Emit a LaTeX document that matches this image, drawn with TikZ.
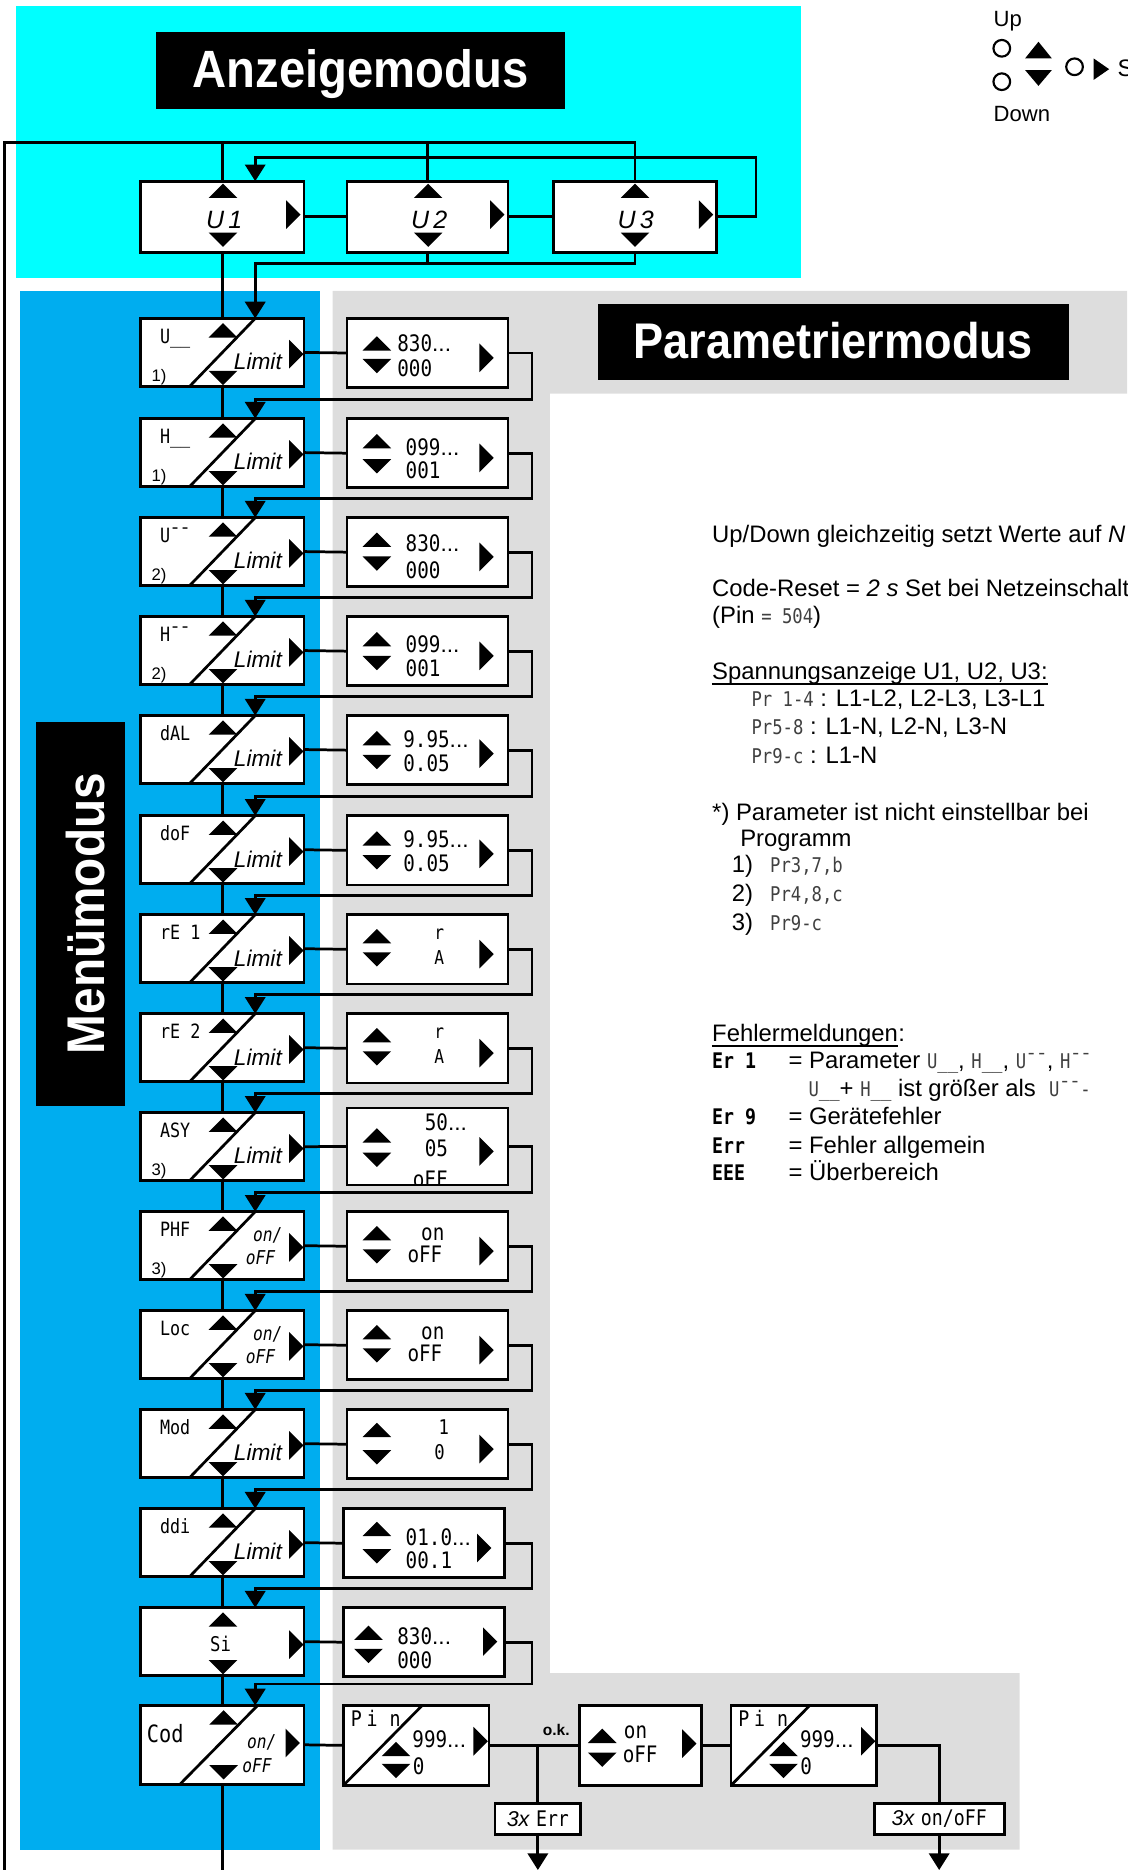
\documentclass[tikz,border=0pt]{standalone}
\usepackage{fontspec}
\setmainfont{Liberation Sans}
\newfontfamily\lcdf{DejaVu Sans Mono}[FakeStretch=0.85]
\newfontfamily\titlef{Liberation Sans}[FakeStretch=0.9]
\usetikzlibrary{arrows.meta,calc}
\definecolor{cyanbg}{RGB}{0,255,255}
\definecolor{bluebg}{RGB}{0,173,239}
\definecolor{graybg}{RGB}{221,221,221}
\newcommand\fsz[1]{\fontsize{#1}{#1}\selectfont}
\newcommand\mydots{{\rmfamily...}}
\newcommand\lcdn{\lcdf\fsz{17}\color{black!75}}
\newcommand\lcdb{\lcdf\bfseries\fsz{18}}
\newcommand\TU[2]{\fill (#1,#2) ++(-12,6) -- ++(24,0) -- ++(-12,-12) -- cycle;}
\newcommand\TD[2]{\fill (#1,#2) ++(-12,-6) -- ++(24,0) -- ++(-12,12) -- cycle;}
\newcommand\TR[2]{\fill (#1,#2) ++(-6,-12) -- ++(0,24) -- ++(12,-12) -- cycle;}
\tikzset{
  lw/.style={line width=2.3pt},
  arr/.style={lw,-{Triangle[width=17pt,length=14pt]}},
  boxst/.style={draw,fill=white,lw,inner sep=0pt,outer sep=0pt},
  mbox/.style={boxst,minimum width=137pt,minimum height=57pt},
  pbox/.style={boxst,minimum width=135pt},
  tb/.style={anchor=base west,inner sep=0pt},
  lab/.style={tb,font=\lcdf\fsz{16.5}},
  val/.style={tb,font=\lcdf\fsz{19}},
  lim/.style={tb,font=\itshape\fsz{19}},
  onst/.style={tb,font=\lcdf\itshape\fsz{16}},
  footst/.style={tb,font=\fsz{14}},
  note/.style={tb,font=\fsz{20}},
  ttl/.style={inner sep=0pt,text=white,font=\titlef\bfseries},
}
% menu box: name, top, label
\newcommand\mbx[3]{%
  \node[mbox,anchor=north] (#1) at (186.5,#2) {};
  \draw[lw] ($(#1.south west)+(41,0)$) -- ($(#1.north west)+(96,0)$);
  \TU{187}{#2+10}\TD{187}{#2+50}\TR{248.5}{#2+30}
  \node[lab] (#1-l) at (134,#2+21) {#3};}
\newcommand\limt[2]{\node[lim] (#1-lim) at (196,#2+43) {Limit};}
\newcommand\onoff[2]{\node[onst] (#1-on) at (212,#2+25) {on/};\node[onst] (#1-off) at (206,#2+44) {oFF};}
\newcommand\fnote[3]{\node[footst] (#1-fn) at (127,#2+53) {#3};}
% param box: name, cx, top, height, trix, up, dn, rtx, rt
\newcommand\pbx[9]{%
  \node[pbox,anchor=north,minimum height=#4] (#1) at (#2,#3) {};
  \TU{#5}{#3+#6}\TD{#5}{#3+#7}\TR{#8}{#3+#9}}
\newcommand\pv[4]{\node[val] (#1) at (#2,#3) {#4};}
\newcommand\ret[3]{\draw[arr] (#1.east) -| (446,#3) -| ($(#2.north)+(27.5,0)$);}

\begin{document}
\begin{tikzpicture}[x=1pt,y=-1pt]
\useasboundingbox (0,0) rectangle (945,1568);
\clip (0,0) rectangle (945,1568);
% backgrounds
\fill[cyanbg] (13,5) rectangle (672,233);
\fill[bluebg] (17,244) rectangle (268,1551);
\fill[graybg] (279,244) -- (945,244) -- (945,330) -- (461,330) -- (461,1403) -- (855,1403) -- (855,1551) -- (279,1551) -- cycle;

% titles
\node[fill=black,minimum width=343pt,minimum height=64pt] (anzbox) at (302.5,59) {};
\node[ttl,anchor=base] (anz) at (302.5,73.2) {\fsz{44}Anzeigemodus};
\node[fill=black,minimum width=395pt,minimum height=64pt] (parbox) at (698.5,287) {};
\node[ttl,anchor=base] (par) at (698.5,301) {\fsz{42}Parametriermodus};
\node[fill=black,minimum width=75pt,minimum height=322pt] (menbox) at (67.5,766) {};
\node[ttl,rotate=90,anchor=base] (men) at (88,766) {\fsz{44.5}Menümodus};

% legend
\node[tb,font=\fsz{18.5}] (up) at (833,22.4) {Up};
\node[tb,font=\fsz{18.5}] (down) at (833,102) {Down};
\node[circle,draw,line width=1.8pt,minimum size=14pt,inner sep=0pt] (c1) at (840,40.5) {};
\node[circle,draw,line width=1.8pt,minimum size=14pt,inner sep=0pt] (c2) at (840,68.5) {};
\node[circle,draw,line width=1.8pt,minimum size=14pt,inner sep=0pt] (c3) at (901,56) {};
\fill (859.5,49) -- (882,49) -- (870.75,35) -- cycle;
\fill (859.5,58.7) -- (882,58.7) -- (870.75,72) -- cycle;
\fill (917,49) -- (917,67) -- (930,58) -- cycle;
\node[tb,font=\fsz{20}] (setl) at (937,64.5) {Set};

% display mode boxes
\node[boxst,minimum width=137pt,minimum height=59.5pt] (u1) at (186.5,181.7) {};
\node[boxst,minimum width=135pt,minimum height=59.5pt] (u2) at (358.5,181.7) {};
\node[boxst,minimum width=137pt,minimum height=59.5pt] (u3) at (532.5,181.7) {};
\TU{187}{160}\TD{187}{201}\TR{246}{180}
\TU{359}{160}\TD{359}{201}\TR{417}{180}
\TU{532.5}{160}\TD{532.5}{201}\TR{592}{180}
\node[font=\itshape\fsz{21},anchor=base,inner sep=0pt] (u1t) at (188,191.5) {U\,1};
\node[font=\itshape\fsz{21},anchor=base,inner sep=0pt] (u2t) at (360,191.5) {U\,2};
\node[font=\itshape\fsz{21},anchor=base,inner sep=0pt] (u3t) at (533,191.5) {U\,3};

% menu boxes
\mbx{m1}{267}{U\_\_}\limt{m1}{267}\fnote{m1}{267}{1)}
\mbx{m2}{351}{H\_\_}\limt{m2}{351}\fnote{m2}{351}{1)}
\mbx{m3}{434}{U¯¯}\limt{m3}{434}\fnote{m3}{434}{2)}
\mbx{m4}{517}{H¯¯}\limt{m4}{517}\fnote{m4}{517}{2)}
\mbx{m5}{600}{dAL}\limt{m5}{600}
\mbx{m6}{684}{doF}\limt{m6}{684}
\mbx{m7}{767}{rE 1}\limt{m7}{767}
\mbx{m8}{850}{rE 2}\limt{m8}{850}
\mbx{m9}{933}{ASY}\limt{m9}{933}\fnote{m9}{933}{3)}
\mbx{m10}{1016}{PHF}\onoff{m10}{1016}\fnote{m10}{1016}{3)}
\mbx{m11}{1099}{Loc}\onoff{m11}{1099}
\mbx{m12}{1182}{Mod}\limt{m12}{1182}
\mbx{m13}{1265}{ddi}\limt{m13}{1265}
\node[mbox,anchor=north] (m14) at (186.5,1348) {};
\TU{187}{1358}\TD{187}{1398}\TR{248.5}{1379}
\node[tb,font=\lcdf\fsz{17}] (m14-l) at (176,1385) {Si};
\node[mbox,anchor=north,minimum height=66pt] (m15) at (186.5,1430) {};
\draw[lw] ($(m15.south west)+(33,0)$) -- ($(m15.north west)+(98,0)$);
\TU{187.5}{1440}\TD{187.5}{1486}\TR{245.5}{1461.5}
\node[tb,font=\lcdf\fsz{20}] (m15-l) at (123,1461) {Cod};
\node[onst] (m15-on) at (207,1466) {on/};
\node[onst] (m15-off) at (203,1486) {oFF};

% parameter boxes
\pbx{p1}{358.5}{267}{58pt}{316}{21}{40}{408}{33}
\pv{p1a}{333}{295}{830\mydots}\pv{p1b}{333}{316}{000}
\pbx{p2}{358.5}{351}{58pt}{316}{19}{40}{408}{33}
\pv{p2a}{340}{381.6}{099\mydots}\pv{p2b}{340}{401.6}{001}
\pbx{p3}{358.5}{434}{58pt}{316}{18.5}{38.6}{408}{33}
\pv{p3a}{340}{462.6}{830\mydots}\pv{p3b}{340}{485}{000}
\pbx{p4}{358.5}{517}{58pt}{316}{19}{39}{408}{33}
\pv{p4a}{340}{547}{099\mydots}\pv{p4b}{340}{567}{001}
\pbx{p5}{358.5}{600}{58pt}{316}{19}{39}{408}{32}
\pv{p5a}{338}{627}{9.95\mydots}\pv{p5b}{338}{647}{0.05}
\pbx{p6}{358.5}{684}{58pt}{316}{19}{39}{408}{32}
\pv{p6a}{338}{711}{9.95\mydots}\pv{p6b}{338}{731}{0.05}
\pbx{p7}{358.5}{767}{58pt}{316}{18}{37.5}{408}{33}
\node[tb,font=\lcdf\fsz{16}] (p7a) at (364,788) {r};
\node[tb,font=\lcdf\fsz{16}] (p7b) at (364,809) {A};
\pbx{p8}{358.5}{850}{58pt}{316}{18}{37.5}{408}{33}
\node[tb,font=\lcdf\fsz{16}] (p8a) at (364,871) {r};
\node[tb,font=\lcdf\fsz{16}] (p8b) at (364,892) {A};
\pbx{p9}{358.5}{929}{64.6pt}{316}{23}{43.5}{408}{36.5}
\pv{p9a}{356}{947.6}{50\mydots}\pv{p9b}{356}{970}{05}
\begin{scope}
\clip (p9.south west) rectangle (p9.north east);
\pv{p9c}{346}{996}{oFF}
\end{scope}
\pbx{p10}{358.5}{1016}{58pt}{316}{18}{37.5}{408}{33}
\pv{p10a}{353}{1040}{on}\pv{p10b}{341.5}{1059}{oFF}
\pbx{p11}{358.5}{1099}{58pt}{316}{18}{37.5}{408}{33}
\pv{p11a}{353}{1123}{on}\pv{p11b}{341.5}{1142}{oFF}
\pbx{p12}{358.5}{1182}{58pt}{316}{17}{40}{408}{33}
\node[tb,font=\lcdf\fsz{17}] (p12a) at (367.5,1203) {1};
\node[tb,font=\lcdf\fsz{17}] (p12b) at (364,1224) {0};
\pbx{p13}{355.5}{1265}{58pt}{316}{17}{40}{406}{33}
\pv{p13a}{340}{1295.6}{01.0\mydots}\pv{p13b}{340}{1315}{00.1}
\pbx{p14}{355.5}{1348}{58pt}{309}{21}{40.6}{411}{28.5}
\pv{p14a}{333}{1379}{830\mydots}\pv{p14b}{333}{1399}{000}

% code chain
\node[boxst,minimum width=122pt,minimum height=67pt,anchor=north] (pin1) at (349,1430) {};
\draw[lw] (pin1.south west) -- ($(pin1.north west)+(66,0)$);
\TU{332}{1466.5}\TD{332}{1485}\TR{403}{1460}
\node[tb,font=\lcdf\fsz{18}] (pin1l) at (294,1448) {P\kern4pt i\kern10pt n};
\pv{pin1a}{345.6}{1465}{999\mydots}\pv{pin1b}{346}{1488}{0}
\node[boxst,minimum width=102pt,minimum height=67pt,anchor=north] (ook) at (537,1430) {};
\TU{505}{1455.5}\TD{505}{1475.5}\TR{578}{1462}
\pv{ooka}{523}{1458}{on}\pv{ookb}{522}{1478}{oFF}
\node[boxst,minimum width=122pt,minimum height=67pt,anchor=north] (pin2) at (674,1430) {};
\draw[lw] (pin2.south west) -- ($(pin2.north west)+(66,0)$);
\TU{657}{1466.5}\TD{657}{1485}\TR{728}{1460}
\node[tb,font=\lcdf\fsz{18}] (pin2l) at (619,1448) {P\kern4pt i\kern10pt n};
\pv{pin2a}{670.6}{1465}{999\mydots}\pv{pin2b}{671}{1488}{0}
\node[boxst,minimum width=72pt,minimum height=26pt,font=\fsz{18}] (err) at (451,1525) {\textit{3x} {\lcdf Err}};
\node[boxst,minimum width=109pt,minimum height=26pt,font=\fsz{18}] (onoffb) at (787.5,1525) {\textit{3x} {\lcdf on/oFF}};
\node[tb,font=\bfseries\fsz{13}] (ok) at (455,1455) {o.k.};

% coordinates
\coordinate (tl) at (4,119.5);
\coordinate (bl) at (4,1568);
\coordinate (lp) at (634,132);
\coordinate (jb) at (214,221);
\coordinate (cb) at (186.5,1568);
\coordinate (errend) at (451,1568);
\coordinate (onend) at (787.5,1568);

% connectors top
\draw[lw] (bl) -- (tl) -| (u3.north);
\draw[lw] (u1.north) -- (u1.north |- tl);
\draw[lw] (u2.north) -- (u2.north |- tl);
\draw[lw] (u1.east) -- (u2.west);
\draw[lw] (u2.east) -- (u3.west);
\draw[arr] (u3.east) -| (lp) -| ($(u1.north)+(27.5,0)$);
\draw[lw] (u2.south) -- (u2.south |- jb);
\draw[arr] (u3.south) |- (jb) -- ($(m1.north)+(27.5,0)$);
\draw[lw] (u1.south) -- (m1.north);

% menu chain
\foreach \a/\b in {m1/m2,m2/m3,m3/m4,m4/m5,m5/m6,m6/m7,m7/m8,m8/m9,m9/m10,m10/m11,m11/m12,m12/m13,m13/m14,m14/m15}
  \draw[lw] (\a.south) -- (\b.north);
\draw[lw] (m15.south) -- (cb);
\foreach \a/\b in {m1/p1,m2/p2,m3/p3,m4/p4,m5/p5,m6/p6,m7/p7,m8/p8,m9/p9,m10/p10,m11/p11,m12/p12,m13/p13,m14/p14}
  \draw[lw] (\a.east) -- (\b.west);
\ret{p1}{m2}{335}\ret{p2}{m3}{418}\ret{p3}{m4}{501}\ret{p4}{m5}{584}
\ret{p5}{m6}{668}\ret{p6}{m7}{751}\ret{p7}{m8}{834}\ret{p8}{m9}{917}
\ret{p9}{m10}{1000}\ret{p10}{m11}{1083}\ret{p11}{m12}{1166}\ret{p12}{m13}{1249}
\ret{p13}{m14}{1332}\ret{p14}{m15}{1412}

% code chain connectors
\draw[lw] (m15.east) -- (pin1.west);
\draw[lw] (pin1.east) -- (ook.west);
\draw[lw] (err.north) -- (err.north |- pin1.east);
\draw[arr] (err.south) -- (errend);
\draw[lw] (ook.east) -- (pin2.west);
\draw[lw] (pin2.east) -| (onoffb.north);
\draw[arr] (onoffb.south) -- (onend);

% notes
\node[note] (n1) at (597,454.5) {Up/Down gleichzeitig setzt Werte auf \textit{N}};
\node[note] (n2) at (597,500) {Code-Reset = \textit{2 s} Set bei Netzeinschalt};
\node[note] (n3) at (597,522.6) {(Pin {\lcdn = 504})};
\node[note] (n4) at (597,570) {Spannungsanzeige U1, U2, U3:};
\draw[line width=1.3pt] ($(n4.base west)+(0,3.5)$) -- ($(n4.base east)+(0,3.5)$);
\node[note] (n5) at (630,592.6) {{\lcdn Pr 1-4} : L1-L2, L2-L3, L3-L1};
\node[note] (n6) at (630,616) {{\lcdn Pr5-8} : L1-N, L2-N, L3-N};
\node[note] (n7) at (630,640) {{\lcdn Pr9-c} : L1-N};
\node[note] (n8) at (597,687.6) {*) Parameter ist nicht einstellbar bei};
\node[note] (n9) at (620.5,710) {Programm};
\node[note] (n10) at (613.5,732) {1)};
\node[note] (n10b) at (645.6,732) {\lcdn Pr3,7,b};
\node[note] (n11) at (613.5,756) {2)};
\node[note] (n11b) at (645.6,756) {\lcdn Pr4,8,c};
\node[note] (n12) at (613.5,780) {3)};
\node[note] (n12b) at (645.6,780) {\lcdn Pr9-c};
\node[note] (fm) at (597,873.5) {Fehlermeldungen};
\draw[line width=1.3pt] ($(fm.base west)+(0,3.5)$) -- ($(fm.base east)+(0,3.5)$);
\node[note] (fmc) at (fm.base east) {:};
\node[note] (e1) at (597,895.6) {\lcdb Er 1};
\node[note] (e1t) at (661,895.6) {= Parameter {\lcdn U\_\_}, {\lcdn H\_\_}, {\lcdn U¯¯}, {\lcdn H¯¯}};
\node[note] (e1u) at (677.8,919.6) {{\lcdn U\_\_}+ {\lcdn H\_\_} ist größer als \ {\lcdn U¯¯-}};
\node[note] (e2) at (597,943) {\lcdb Er 9};
\node[note] (e2t) at (661,943) {= Gerätefehler};
\node[note] (e3) at (597,967) {\lcdb Err};
\node[note] (e3t) at (661,967) {= Fehler allgemein};
\node[note] (e4) at (597,989.6) {\lcdb EEE};
\node[note] (e4t) at (661,989.6) {= Überbereich};
\end{tikzpicture}
\end{document}
